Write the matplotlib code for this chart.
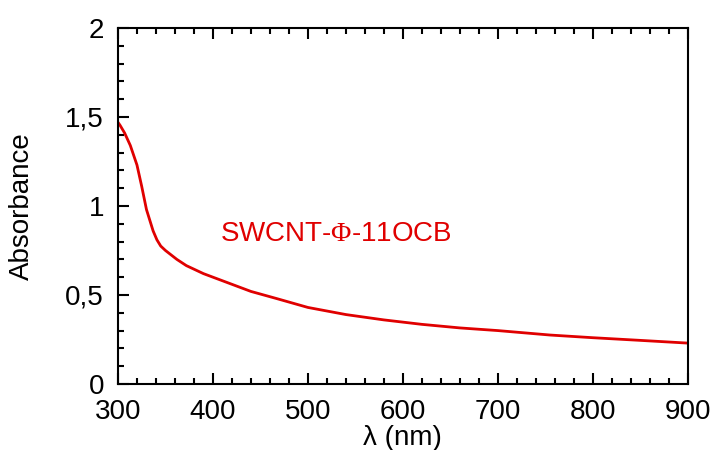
import matplotlib
matplotlib.use("Agg")
import matplotlib.pyplot as plt
from matplotlib.ticker import MultipleLocator, FuncFormatter

# absorbance spectrum
wavelength = [300, 302, 307, 313, 320, 325, 330, 337, 341, 345, 350, 356, 362, 372,
              390, 415, 440, 467, 500, 540, 580, 620, 660, 700, 755, 800, 850, 899]
absorbance = [1.47, 1.455, 1.41, 1.34, 1.23, 1.11, 0.98, 0.86, 0.81, 0.775, 0.75,
              0.725, 0.70, 0.665, 0.62, 0.57, 0.52, 0.48, 0.43, 0.39, 0.36, 0.335,
              0.315, 0.30, 0.275, 0.26, 0.245, 0.23]
label = r"SWCNT-$\Phi$-11OCB"

plt.rcParams["font.family"] = ["Liberation Sans", "DejaVu Sans"]
plt.rcParams["mathtext.fontset"] = "custom"
plt.rcParams["mathtext.rm"] = "Liberation Serif"
plt.rcParams["mathtext.it"] = "Liberation Serif"

fig = plt.figure(figsize=(7.12, 4.5), dpi=100)
ax = fig.add_axes([0.1657, 0.1467, 0.8003, 0.7911])

ax.plot(wavelength, absorbance, color="#e00000", lw=2)
ax.text(407, 0.84, label, color="#e00000", fontsize=20, va="center")

ax.set_xlim(300, 900)
ax.set_ylim(0, 2)
ax.xaxis.set_major_locator(MultipleLocator(100))
ax.xaxis.set_minor_locator(MultipleLocator(20))
ax.yaxis.set_major_locator(MultipleLocator(0.5))
ax.yaxis.set_minor_locator(MultipleLocator(0.1))
ax.yaxis.set_major_formatter(FuncFormatter(lambda v, p: ("%g" % v).replace(".", ",")))

ax.tick_params(which="both", direction="in", top=True, right=False, width=1.5,
               labelsize=20)
ax.tick_params(axis="x", pad=11)
ax.tick_params(axis="y", pad=10)
ax.tick_params(which="major", length=8)
ax.tick_params(which="minor", length=4)
for s in ax.spines.values():
    s.set_linewidth(1.5)

ax.set_xlabel("\u03bb (nm)", fontsize=20, labelpad=0)
ax.set_ylabel("Absorbance", fontsize=20, labelpad=22)

fig.savefig("out.png", dpi=100)
